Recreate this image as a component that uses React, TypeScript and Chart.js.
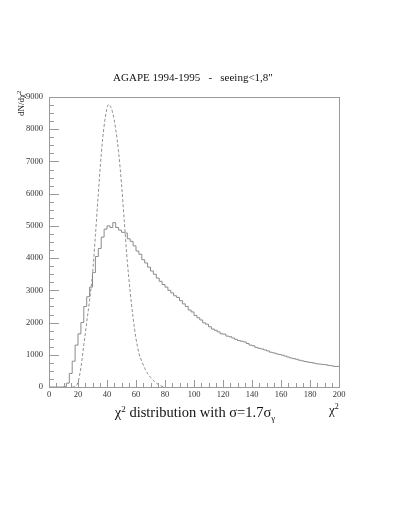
import React, { useEffect, useRef } from "react";
import { Chart, registerables } from "chart.js";

Chart.register(...registerables);

// Histogram: bins of width 2 from 0 to 200
const binWidth = 2;
const histCounts = [
  0, 0, 0, 0, 0, 0, 10, 120, 420, 800,
  1300, 1650, 2000, 2500, 2800, 3100, 3550, 4050, 4300, 4650,
  4900, 5000, 4950, 5100, 4950, 4870, 4800, 4780, 4600, 4520,
  4380, 4220, 4120, 3950, 3850, 3720, 3600, 3500, 3380, 3280,
  3180, 3100, 3000, 2920, 2830, 2780, 2680, 2580, 2500, 2390,
  2330, 2220, 2150, 2080, 1990, 1950, 1870, 1800, 1760, 1710,
  1650, 1640, 1580, 1560, 1520, 1480, 1440, 1420, 1400, 1350,
  1300, 1280, 1230, 1200, 1180, 1150, 1120, 1080, 1060, 1030,
  1010, 990, 960, 930, 900, 880, 860, 830, 810, 790,
  770, 760, 740, 720, 710, 700, 690, 670, 660, 640,
];

// Dashed reference curve
const curveX = [16, 18, 20, 22, 24, 26, 28, 30, 32, 34, 36, 38, 40, 41, 42, 44, 46, 48, 50, 52, 54, 56, 58, 60, 62, 64, 66, 68, 70, 72, 74, 76, 78, 80];
const curveY = [0, 10, 150, 600, 1300, 2000, 2700, 3500, 4700, 6000, 7200, 8100, 8650, 8770, 8740, 8500, 8000, 7300, 6300, 5100, 3900, 2950, 2150, 1500, 1050, 800, 580, 420, 300, 200, 120, 60, 20, 0];

const xTickValues = [0, 20, 40, 60, 80, 100, 120, 140, 160, 180, 200];
const yTickValues = [0, 1000, 2000, 3000, 4000, 5000, 6000, 7000, 8000, 9000];
const xMinorStep = 5;
const yMinorStep = 250;

const titleText = "AGAPE 1994-1995   -   seeing<1,8\u2033";

const FRAME = "#9a9a9a";
const LINE = "#8a8a8a";
const SERIF = "'Liberation Serif', 'DejaVu Serif', serif";

const framePlugin = {
  id: "frameTicks",
  afterDatasetsDraw(chart: any) {
    const { ctx, chartArea } = chart;
    const xs = chart.scales.x;
    const ys = chart.scales.y;
    ctx.save();
    ctx.strokeStyle = FRAME;
    ctx.lineWidth = 1;
    ctx.strokeRect(
      Math.round(chartArea.left) + 0.5,
      Math.round(chartArea.top) + 0.5,
      Math.round(chartArea.right - chartArea.left),
      Math.round(chartArea.bottom - chartArea.top)
    );
    ctx.beginPath();
    for (let v = ys.min; v <= ys.max; v += yMinorStep) {
      const y = Math.round(ys.getPixelForValue(v)) + 0.5;
      const len = v % 1000 === 0 ? 10 : 5;
      ctx.moveTo(chartArea.left, y);
      ctx.lineTo(chartArea.left + len, y);
    }
    for (let v = xs.min; v <= xs.max; v += xMinorStep) {
      const x = Math.round(xs.getPixelForValue(v)) + 0.5;
      const len = v % 20 === 0 ? 7 : 4;
      ctx.moveTo(x, chartArea.bottom);
      ctx.lineTo(x, chartArea.bottom - len);
    }
    ctx.stroke();
    ctx.restore();
  },
};

export default function App() {
  const ref = useRef<HTMLCanvasElement | null>(null);

  useEffect(() => {
    if (!ref.current) return;
    const histData = histCounts.map((v, i) => ({ x: i * binWidth, y: v }));
    histData.push({ x: histCounts.length * binWidth, y: histCounts[histCounts.length - 1] });
    const curveData = curveX.map((x, i) => ({ x, y: curveY[i] }));

    const chart = new Chart(ref.current, {
      type: "line",
      data: {
        datasets: [
          {
            data: histData,
            stepped: "after",
            borderColor: LINE,
            borderWidth: 1,
            pointRadius: 0,
            fill: false,
          },
          {
            data: curveData,
            borderColor: "#909090",
            borderWidth: 1,
            borderDash: [3, 2],
            pointRadius: 0,
            fill: false,
            cubicInterpolationMode: "monotone",
          },
        ],
      },
      options: {
        responsive: false,
        animation: false,
        events: [],
        layout: { padding: { left: 0, top: 97, right: 60, bottom: 109 } },
        plugins: { legend: { display: false }, tooltip: { enabled: false }, title: { display: false } },
        scales: {
          x: {
            type: "linear",
            min: 0,
            max: 200,
            afterBuildTicks: (s: any) => {
              s.ticks = xTickValues.map((v) => ({ value: v }));
            },
            afterFit: (s: any) => {
              s.height = 20;
            },
            grid: { display: false, drawTicks: false },
            border: { display: false },
            ticks: {
              autoSkip: false,
              maxRotation: 0,
              padding: 3,
              color: "#333",
              font: { family: SERIF, size: 8.5 },
              callback: (v: any) => String(v),
            },
          },
          y: {
            type: "linear",
            min: 0,
            max: 9000,
            afterBuildTicks: (s: any) => {
              s.ticks = yTickValues.map((v) => ({ value: v }));
            },
            afterFit: (s: any) => {
              s.width = 49;
            },
            grid: { display: false, drawTicks: false },
            border: { display: false },
            ticks: {
              padding: 6,
              color: "#333",
              font: { family: SERIF, size: 8.5 },
              callback: (v: any) => String(v),
            },
          },
        },
      },
      plugins: [framePlugin],
    } as any);
    return () => chart.destroy();
  }, []);

  const textBase: React.CSSProperties = {
    position: "absolute",
    fontFamily: SERIF,
    color: "#111",
    whiteSpace: "pre",
    lineHeight: 1,
  };

  return (
    <div style={{ position: "absolute", left: 0, top: 0, width: 399, height: 516, background: "#fff" }}>
      <canvas ref={ref} width={399} height={516} style={{ display: "block", width: 399, height: 516 }} />
      <div style={{ ...textBase, left: 0, width: 386, top: 72, textAlign: "center", fontSize: 11 }}>{titleText}</div>
      <div
        style={{
          ...textBase,
          fontSize: 9,
          left: 16,
          top: 116,
          transformOrigin: "0 0",
          transform: "rotate(-90deg)",
        }}
      >
        dN/dχ<sup style={{ fontSize: 6.5, verticalAlign: "0.5em" }}>2</sup>
      </div>
      <div style={{ ...textBase, left: 0, width: 390, top: 405, textAlign: "center", fontSize: 14.5 }}>
        χ<sup style={{ fontSize: 9, verticalAlign: "0.6em" }}>2</sup> distribution with σ=1.7σ
        <sub style={{ fontSize: 9, verticalAlign: "-0.35em" }}>γ</sub>
      </div>
      <div style={{ ...textBase, left: 329, top: 403, fontSize: 13 }}>
        χ<sup style={{ fontSize: 8, verticalAlign: "0.6em" }}>2</sup>
      </div>
    </div>
  );
}
